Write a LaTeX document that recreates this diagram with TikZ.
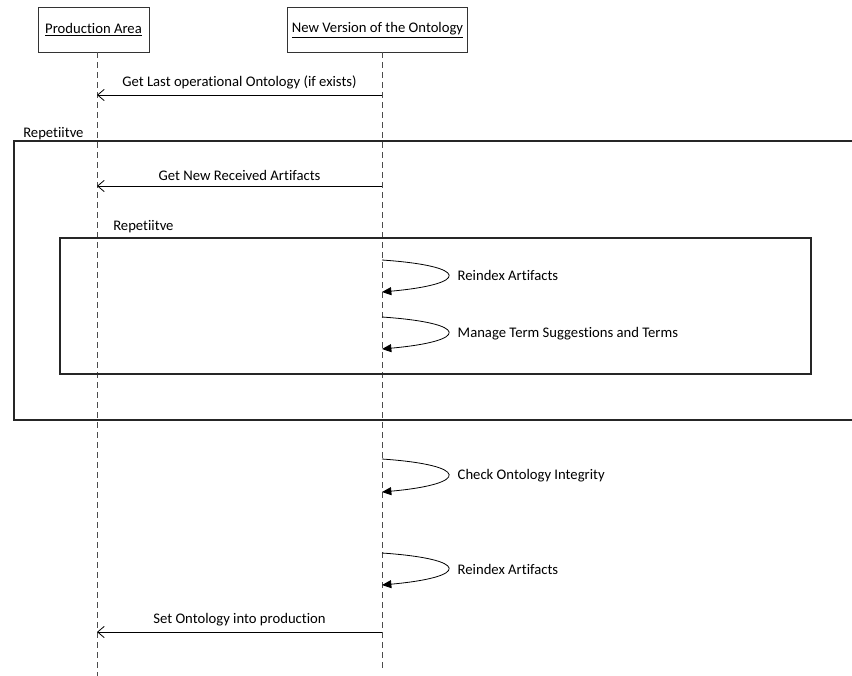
\documentclass[tikz,border=0pt]{standalone}
\usepackage{fontspec}
\setmainfont[Ligatures=NoCommon]{Carlito}
\usetikzlibrary{arrows.meta}

\begin{document}
\begin{tikzpicture}[
  x=0.75pt,
  y=-0.75pt,
  font=\fontsize{11}{13}\selectfont,
  actor/.style={
    draw=black!80,
    line width=0.75pt,
    minimum height=33.75pt,
    align=center
  },
  lifeline/.style={draw=black!70, line width=0.75pt, dash pattern=on 4.5pt off 3pt},
  msg/.style={-{Straight Barb[length=5pt,width=8.5pt]}, line width=0.6pt, draw=black},
  selfcall/.style={-{Triangle[length=7pt,width=6pt]}, line width=0.6pt, draw=black},
  frame/.style={draw=black!85, line width=1.1pt},
  framelabel/.style={anchor=west, inner sep=0pt}
]

\useasboundingbox (0,0) rectangle (852,675);
\clip (0,0) rectangle (852,675);

\node[actor, minimum width=83.25pt] (prodArea) at (93.5,30) {\underline{Production Area}};
\node[actor, minimum width=134.25pt] (newVersion) at (377.5,30) {\underline{New Version of the Ontology}};

\draw[lifeline] (97,52) -- (97,676);
\draw[lifeline] (382,52) -- (382,670);

% frames
\draw[frame] (14,141) rectangle (870,420);
\node[framelabel] (outerLbl) at (23,134) {Repetiitve};
\draw[frame] (60,238) rectangle (811,374);
\node[framelabel] (innerLbl) at (113,227) {Repetiitve};

% messages between the two lifelines
\coordinate (getLastFrom) at (382,95);
\coordinate (getLastTo) at (97,95);
\draw[msg] (getLastFrom) -- node[above, inner sep=4pt] (getLastLbl) {Get Last operational Ontology (if exists)} (getLastTo);

\coordinate (getNewFrom) at (382,186);
\coordinate (getNewTo) at (97,186);
\draw[msg] (getNewFrom) -- node[above, inner sep=4pt] (getNewLbl) {Get New Received Artifacts} (getNewTo);

\coordinate (setProdFrom) at (382,632);
\coordinate (setProdTo) at (97,632);
\draw[msg] (setProdFrom) -- node[above, inner sep=4pt] (setProdLbl) {Set Ontology into production} (setProdTo);

% self calls
\coordinate (reindexA) at (382,260);
\coordinate (reindexB) at (382,292);
\draw[selfcall] (reindexA) .. controls +(88,6) and +(88,-8) .. (reindexB);
\node[anchor=west] (reindexLbl) at (453,275) {Reindex Artifacts};

\coordinate (manageA) at (382,317);
\coordinate (manageB) at (382,349);
\draw[selfcall] (manageA) .. controls +(88,6) and +(88,-8) .. (manageB);
\node[anchor=west] (manageLbl) at (453,334) {Manage Term Suggestions and Terms};

\coordinate (checkA) at (382,459);
\coordinate (checkB) at (382,492);
\draw[selfcall] (checkA) .. controls +(88,6) and +(88,-8) .. (checkB);
\node[anchor=west] (checkLbl) at (453,476) {Check Ontology Integrity};

\coordinate (reindexTwoA) at (382,553);
\coordinate (reindexTwoB) at (382,585);
\draw[selfcall] (reindexTwoA) .. controls +(88,6) and +(88,-8) .. (reindexTwoB);
\node[anchor=west] (reindexTwoLbl) at (453,569) {Reindex Artifacts};

\end{tikzpicture}
\end{document}
